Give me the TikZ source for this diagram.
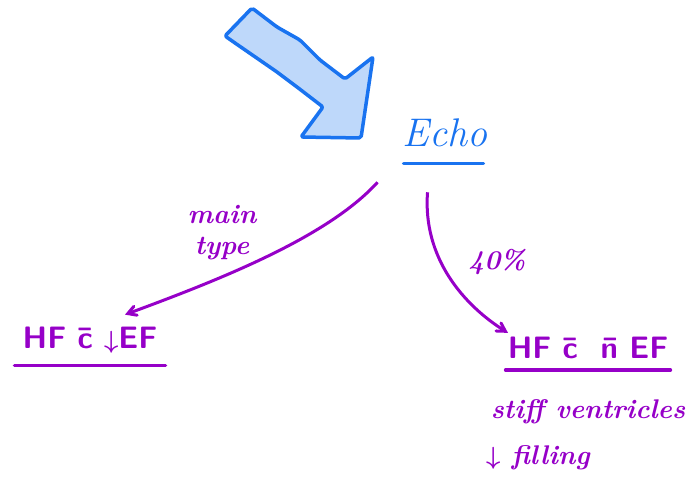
\documentclass[tikz,border=0pt]{standalone}
\usepackage{amsmath}
\usepackage{fontspec}
\usepackage{tikz}
\usetikzlibrary{shapes,arrows,positioning}
\definecolor{penblue}{RGB}{25,115,240}
\definecolor{penfill}{RGB}{190,216,250}
\definecolor{penpurple}{RGB}{150,0,200}
\tikzstyle{title} = [text=penblue, font=\fontsize{40}{42}\selectfont\itshape, inner sep=2pt]
\tikzstyle{note} = [text=penpurple, font=\fontsize{27}{31}\selectfont\itshape\bfseries\boldmath, align=center, inner sep=1pt]
\tikzstyle{result} = [text=penpurple, font=\fontsize{31}{34}\selectfont\sffamily\bfseries\boldmath, inner sep=2pt]
\tikzstyle{underline} = [line width=3.5pt, line cap=round]
\tikzstyle{arrow} = [penpurple, line width=3pt, ->, >=angle 60]
\tikzstyle{bigarrow} = [draw=penblue, fill=penfill, line width=3.5pt, line join=round, rounded corners=2pt]

\begin{document}
\begin{tikzpicture}[x=1pt,y=-1pt]
\useasboundingbox (0,0) rectangle (691,483);
% fat hand-drawn arrow pointing at the heading
\draw [bigarrow] (225,36) -- (252,8) -- (277,27) -- (300,40) -- (320,60) -- (345,79) -- (373,57)
  -- (361,138) -- (301,137) -- (323,107) -- (297,87) -- (277,72) -- (235,43) -- cycle;

\node (echo) [title] at (445,133) {Echo};
\draw [underline, penblue] ([xshift=3pt,yshift=-14pt]echo.south west) -- ([xshift=-6pt,yshift=-14pt]echo.south east);

\node (hfdown) [result] at (90,340) {HF \={c} $\downarrow$EF};
\draw [underline, penpurple] ([xshift=-6pt,yshift=-10pt]hfdown.south west) -- ([xshift=6pt,yshift=-10pt]hfdown.south east);

\node (hfnorm) [result] at (588,348) {HF \={c} \ \={n} EF};
\draw [underline, penpurple] ([yshift=-9pt]hfnorm.south west) -- ([yshift=-9pt]hfnorm.south east);

\node (stiff) [note] at (588,412) {stiff ventricles};
\node (filling) [note] at (538,458) {$\downarrow$ filling};

\node (main) [note] at (222,233) {main\\type};
\node (pct) [note] at (497,262) {40\%};

\draw [arrow] ([xshift=-23pt,yshift=-33pt]echo.south west) .. controls +(-50,55) and +(95,-35) .. ([xshift=35pt,yshift=10pt]hfdown.north);
\draw [arrow] ([xshift=27pt,yshift=-43pt]echo.south west) .. controls +(-5,65) and +(-45,-28) .. ([xshift=-80pt,yshift=2pt]hfnorm.north);
\end{tikzpicture}
\end{document}
